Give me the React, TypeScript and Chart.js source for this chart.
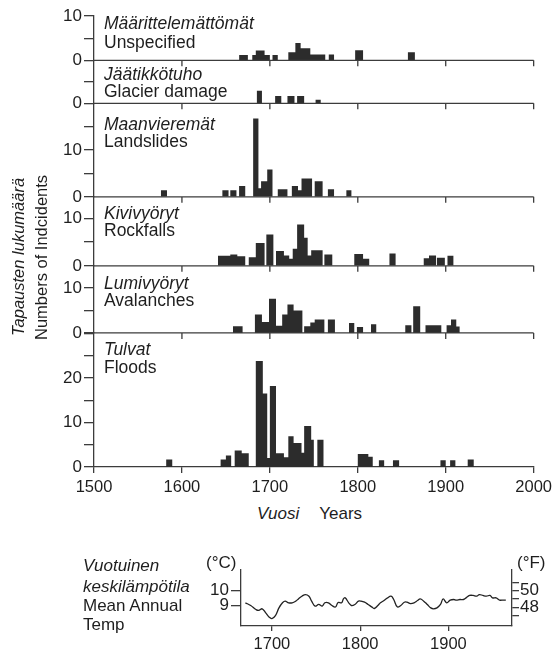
import React, { useEffect, useRef } from "react";
import { Chart, registerables } from "chart.js";

Chart.register(...registerables);

// Bins: [start year, end year, number of incidents]
const unspecifiedBins: [number, number, number][] = [
  [1665, 1675, 1.2], [1680, 1684, 1.2], [1684, 1694, 2.2], [1694, 1700, 1.2],
  [1703, 1709, 1.2], [1721, 1729, 1.8], [1729, 1735, 3.9], [1735, 1746, 2.7],
  [1746, 1763, 1.3], [1767, 1773, 1.3], [1797, 1806, 2.3], [1857, 1865, 1.8],
];
const glacierBins: [number, number, number][] = [
  [1685, 1691, 2.9], [1706, 1713, 1.7], [1720, 1728, 1.7], [1731, 1739, 1.7], [1752, 1758, 0.8],
];
const landslideBins: [number, number, number][] = [
  [1576, 1583, 1.4], [1646, 1653, 1.4], [1655, 1662, 1.4], [1665, 1672, 2.3],
  [1681, 1687, 16.7], [1687, 1690, 1.8], [1690, 1697, 3.3], [1697, 1703, 5.8],
  [1709, 1720, 1.6], [1725, 1732, 2.3], [1732, 1736, 1.4], [1736, 1748, 3.9],
  [1751, 1760, 3.3], [1766, 1773, 1.6], [1787, 1793, 1.4],
];
const rockfallBins: [number, number, number][] = [
  [1641, 1655, 2.1], [1655, 1663, 2.4], [1663, 1672, 2.0], [1676, 1684, 1.8],
  [1684, 1694, 4.8], [1696, 1704, 6.6], [1707, 1716, 3.1], [1716, 1722, 2.2],
  [1722, 1726, 1.5], [1726, 1731, 3.6], [1731, 1739, 8.7], [1739, 1743, 5.9],
  [1743, 1747, 2.2], [1747, 1760, 3.3], [1762, 1771, 2.4], [1796, 1806, 2.5],
  [1806, 1813, 1.5], [1836, 1843, 2.6], [1875, 1881, 1.6], [1881, 1889, 2.2],
  [1890, 1899, 1.7], [1902, 1909, 2.1],
];
const avalancheBins: [number, number, number][] = [
  [1658, 1669, 1.5], [1683, 1691, 4.1], [1691, 1699, 2.4], [1699, 1707, 7.6],
  [1707, 1714, 1.6], [1714, 1720, 4.1], [1720, 1727, 6.3], [1727, 1737, 5.0],
  [1739, 1746, 1.5], [1746, 1751, 2.3], [1751, 1762, 3.0], [1766, 1774, 3.0],
  [1790, 1796, 2.2], [1799, 1806, 1.3], [1815, 1821, 1.9], [1854, 1861, 1.7],
  [1863, 1871, 5.9], [1877, 1895, 1.7], [1901, 1906, 1.7], [1906, 1912, 3.0],
  [1912, 1916, 1.4],
];
const floodBins: [number, number, number][] = [
  [1582, 1589, 1.7], [1644, 1650, 1.7], [1650, 1656, 2.6], [1660, 1668, 3.7],
  [1668, 1676, 3.1], [1684, 1692, 23.8], [1692, 1697, 16.5], [1697, 1700, 2.0],
  [1700, 1707, 18.2], [1707, 1716, 3.1], [1716, 1721, 2.2], [1721, 1727, 6.9],
  [1727, 1736, 5.4], [1736, 1739, 3.2], [1739, 1747, 9.2], [1747, 1750, 6.1],
  [1754, 1761, 6.1], [1800, 1812, 2.9], [1812, 1817, 2.3], [1824, 1830, 1.5],
  [1840, 1847, 1.5], [1894, 1900, 1.5], [1905, 1911, 1.5], [1925, 1932, 1.7],
];

const yearTicks = [1500, 1600, 1700, 1800, 1900, 2000];

// Mean annual temperature (°C)
const tempYears = [
  1670, 1676, 1682, 1685, 1689, 1693, 1697, 1700, 1704, 1708,
  1712, 1715, 1719, 1723, 1727, 1730, 1734, 1738, 1742, 1745,
  1749, 1753, 1757, 1760, 1764, 1768, 1772, 1775, 1779, 1781,
  1783, 1787, 1790, 1794, 1798, 1801, 1805, 1809, 1813, 1816,
  1820, 1823, 1827, 1831, 1835, 1838, 1842, 1846, 1850, 1853,
  1857, 1861, 1865, 1868, 1872, 1876, 1880, 1883, 1887, 1891,
  1894, 1898, 1902, 1906, 1909, 1913, 1917, 1920, 1924, 1928,
  1932, 1935, 1939, 1943, 1947, 1950, 1954, 1958, 1962, 1965,
];
const tempC = [
  9.18, 9.0, 8.73, 8.67, 8.78, 8.51, 8.22, 8.13, 8.33, 8.84,
  9.18, 9.29, 9.18, 9.18, 9.29, 9.44, 9.62, 9.73, 9.62, 9.29,
  8.96, 9.07, 8.96, 9.18, 9.18, 9.0, 8.9, 9.2, 9.18, 9.44,
  9.51, 9.18, 9.0, 9.07, 9.29, 9.29, 9.22, 9.07, 8.91, 8.8,
  9.0, 9.18, 9.33, 9.51, 9.62, 9.4, 8.91, 9.0, 9.22, 9.22,
  9.13, 9.18, 9.33, 9.44, 9.29, 9.07, 8.84, 8.78, 8.84, 9.07,
  9.44, 9.18, 9.36, 9.4, 9.36, 9.4, 9.4, 9.51, 9.67, 9.67,
  9.62, 9.73, 9.67, 9.62, 9.67, 9.51, 9.51, 9.36, 9.36, 9.36,
];
const tempYearTicks = [1700, 1800, 1900];
const celsiusTicks = [9, 10];
const fahrenheitTicks = [47, 48, 49, 50, 51];
const fahrenheitLabels = [48, 50];

const FONT = '"Liberation Sans", Arial, Helvetica, sans-serif';
const BAR = "#2c2c2c";
const AXIS = "#3c3c3c";
const TEXT = "#1e1e1e";

// panels listed bottom -> top (Chart.js stacks the last defined left axis on top)
const panels = [
  { id: "yFloods", bins: floodBins, max: 30.1, weight: 134, labels: [0, 10, 20] },
  { id: "yAval", bins: avalancheBins, max: 14.9, weight: 67, labels: [0, 10] },
  { id: "yRock", bins: rockfallBins, max: 14.5, weight: 69, labels: [0, 10] },
  { id: "yLand", bins: landslideBins, max: 19.9, weight: 93.4, labels: [0, 10] },
  { id: "yGlac", bins: glacierBins, max: 9.8, weight: 43, labels: [0] },
  { id: "yUnsp", bins: unspecifiedBins, max: 10, weight: 44.3, labels: [0, 10] },
];

function binsToPoints(bins: [number, number, number][]) {
  const pts: { x: number; y: number }[] = [];
  for (const [s, e, v] of bins) {
    pts.push({ x: s, y: v });
    pts.push({ x: e, y: 0 });
  }
  return pts;
}

const baselinePlugin = {
  id: "panelBaselines",
  afterDatasetsDraw(chart: any) {
    const { ctx, chartArea, scales } = chart;
    const xs = scales.x;
    ctx.save();
    ctx.strokeStyle = AXIS;
    ctx.lineWidth = 1.3;
    for (const p of panels) {
      if (p.id === "yFloods") continue;
      const y = scales[p.id].getPixelForValue(0);
      ctx.beginPath();
      ctx.moveTo(chartArea.left, y);
      ctx.lineTo(chartArea.right, y);
      for (const t of yearTicks) {
        if (t === 1500) continue;
        const x = xs.getPixelForValue(t);
        ctx.moveTo(x, y);
        ctx.lineTo(x, y + 6);
      }
      ctx.stroke();
    }
    ctx.restore();
  },
};

function Label(props: { x: number; y: number; text: string; italic?: boolean; size?: number }) {
  return (
    <div
      style={{
        position: "absolute",
        left: props.x,
        top: props.y - 10,
        fontSize: props.size ?? 17.5,
        lineHeight: "20px",
        fontStyle: props.italic ? "italic" : "normal",
        whiteSpace: "nowrap",
        color: TEXT,
      }}
    >
      {props.text}
    </div>
  );
}

export default function App() {
  const mainRef = useRef<HTMLCanvasElement>(null);
  const tempRef = useRef<HTMLCanvasElement>(null);

  useEffect(() => {
    const scales: any = {
      x: {
        type: "linear",
        position: "bottom",
        min: 1500,
        max: 2000,
        border: { color: AXIS, width: 1.3 },
        grid: { drawOnChartArea: false, tickLength: 6, color: AXIS, lineWidth: 1.3 },
        afterBuildTicks: (s: any) => {
          s.ticks = yearTicks.map((v) => ({ value: v }));
        },
        ticks: {
          padding: 5,
          color: TEXT,
          font: { family: FONT, size: 16.5 },
          maxRotation: 0,
          autoSkip: false,
          callback: (v: any) => String(v),
        },
        afterFit: (s: any) => {
          s.height = 33;
        },
      },
    };
    for (const p of panels) {
      scales[p.id] = {
        type: "linear",
        position: "left",
        stack: "panels",
        stackWeight: p.weight,
        min: 0,
        max: p.max,
        border: { color: AXIS, width: 1.3 },
        grid: { drawOnChartArea: false, tickLength: 10, color: AXIS, lineWidth: 1.3 },
        ticks: {
          stepSize: 5,
          includeBounds: false,
          autoSkip: false,
          padding: 2,
          color: TEXT,
          font: { family: FONT, size: 17 },
          callback: (v: any) => (p.labels.includes(v) ? String(v) : ""),
        },
        afterFit: (s: any) => {
          s.width = 94;
        },
      };
    }

    const main = new Chart(mainRef.current!, {
      type: "line",
      data: {
        datasets: panels.map((p) => ({
          data: binsToPoints(p.bins),
          yAxisID: p.id,
          xAxisID: "x",
          stepped: "before",
          fill: "origin",
          backgroundColor: BAR,
          borderColor: "rgba(0,0,0,0)",
          borderWidth: 0,
          pointRadius: 0,
        })) as any,
      },
      options: {
        responsive: false,
        animation: false,
        devicePixelRatio: 1,
        layout: { padding: { left: 0, right: 20, top: 16, bottom: 0 } },
        plugins: { legend: { display: false }, tooltip: { enabled: false } },
        scales,
      } as any,
      plugins: [baselinePlugin],
    });

    const cMin = 7.633;
    const cMax = 11.367;
    const temp = new Chart(tempRef.current!, {
      type: "line",
      data: {
        datasets: [
          {
            data: tempYears.map((x, i) => ({ x, y: tempC[i] })),
            yAxisID: "yC",
            borderColor: "#222",
            borderWidth: 1.3,
            pointRadius: 0,
            tension: 0.4,
          },
        ],
      },
      options: {
        responsive: false,
        animation: false,
        devicePixelRatio: 1,
        layout: { padding: { left: 0, right: 0, top: 20, bottom: 0 } },
        plugins: { legend: { display: false }, tooltip: { enabled: false } },
        scales: {
          x: {
            type: "linear",
            min: 1665,
            max: 1972,
            border: { color: AXIS, width: 1.3 },
            grid: { drawOnChartArea: false, tickLength: 5, color: AXIS, lineWidth: 1.3 },
            afterBuildTicks: (s: any) => {
              s.ticks = tempYearTicks.map((v) => ({ value: v }));
            },
            ticks: {
              padding: 4,
              color: TEXT,
              font: { family: FONT, size: 16.5 },
              maxRotation: 0,
              autoSkip: false,
              callback: (v: any) => String(v),
            },
            afterFit: (s: any) => {
              s.height = 24;
            },
          },
          yC: {
            type: "linear",
            position: "left",
            min: cMin,
            max: cMax,
            border: { color: AXIS, width: 1.3 },
            grid: { drawOnChartArea: false, tickLength: 10, color: AXIS, lineWidth: 1.3 },
            afterBuildTicks: (s: any) => {
              s.ticks = celsiusTicks.map((v) => ({ value: v }));
            },
            ticks: {
              padding: 2,
              autoSkip: false,
              color: TEXT,
              font: { family: FONT, size: 17 },
              callback: (v: any) => String(v),
            },
            afterFit: (s: any) => {
              s.width = 241;
            },
          },
          yF: {
            type: "linear",
            position: "right",
            min: cMin * 1.8 + 32,
            max: cMax * 1.8 + 32,
            border: { color: AXIS, width: 1.3 },
            grid: { drawOnChartArea: false, tickLength: 7, color: AXIS, lineWidth: 1.3 },
            afterBuildTicks: (s: any) => {
              s.ticks = fahrenheitTicks.map((v) => ({ value: v }));
            },
            ticks: {
              padding: 1,
              autoSkip: false,
              color: TEXT,
              font: { family: FONT, size: 17 },
              callback: (v: any) => (fahrenheitLabels.includes(v) ? String(v) : ""),
            },
            afterFit: (s: any) => {
              s.width = 45;
            },
          },
        },
      } as any,
    });

    return () => {
      main.destroy();
      temp.destroy();
    };
  }, []);

  return (
    <div
      style={{
        position: "absolute",
        left: 0,
        top: 0,
        width: 557,
        height: 650,
        background: "#fff",
        fontFamily: FONT,
        color: TEXT,
        overflow: "hidden",
      }}
    >
      <canvas
        ref={mainRef}
        width={557}
        height={500}
        style={{ position: "absolute", left: 0, top: 0, width: 557, height: 500 }}
      />
      <canvas
        ref={tempRef}
        width={557}
        height={100}
        style={{ position: "absolute", left: 0, top: 550, width: 557, height: 100 }}
      />

      <Label x={104} y={23} text="Määrittelemättömät" italic />
      <Label x={104} y={42} text="Unspecified" />
      <Label x={104} y={74} text="Jäätikkötuho" italic />
      <Label x={104} y={91} text="Glacier damage" />
      <Label x={104} y={124} text="Maanvieremät" italic />
      <Label x={104} y={141} text="Landslides" />
      <Label x={104} y={213} text="Kivivyöryt" italic />
      <Label x={104} y={230} text="Rockfalls" />
      <Label x={104} y={283} text="Lumivyöryt" italic />
      <Label x={104} y={300} text="Avalanches" />
      <Label x={104} y={349} text="Tulvat" italic />
      <Label x={104} y={367} text="Floods" />

      <div
        style={{
          position: "absolute",
          left: 257,
          top: 504,
          fontSize: 17,
          lineHeight: "20px",
          whiteSpace: "nowrap",
        }}
      >
        <span style={{ fontStyle: "italic" }}>Vuosi</span>
        <span style={{ marginLeft: 20 }}>Years</span>
      </div>

      <div
        style={{
          position: "absolute",
          left: 9,
          top: 336,
          fontSize: 16.5,
          lineHeight: "19px",
          whiteSpace: "nowrap",
          fontStyle: "italic",
          transform: "rotate(-90deg)",
          transformOrigin: "0 0",
        }}
      >
        Tapausten lukumäärä
      </div>
      <div
        style={{
          position: "absolute",
          left: 32,
          top: 340,
          fontSize: 16.5,
          lineHeight: "19px",
          whiteSpace: "nowrap",
          transform: "rotate(-90deg)",
          transformOrigin: "0 0",
        }}
      >
        Numbers of Indcidents
      </div>

      <Label x={83} y={566} text="Vuotuinen" italic size={17} />
      <Label x={83} y={587} text="keskilämpötila" italic size={17} />
      <Label x={83} y={606} text="Mean Annual" size={17} />
      <Label x={83} y={625} text="Temp" size={17} />
      <Label x={206} y={563} text="(°C)" size={17} />
      <Label x={517} y={563} text="(°F)" size={17} />
    </div>
  );
}
